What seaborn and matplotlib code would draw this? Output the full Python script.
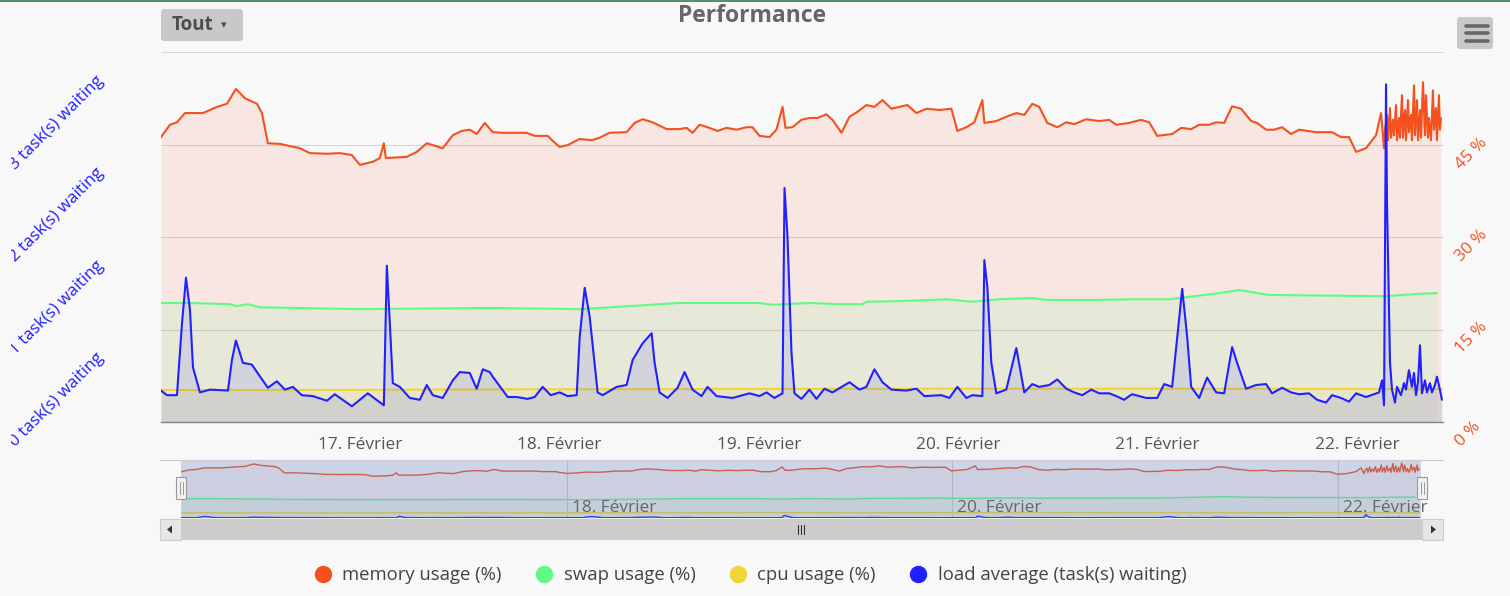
import matplotlib
matplotlib.use("Agg")
import matplotlib.pyplot as plt
import matplotlib.dates as mdates
import matplotlib.transforms as mtransforms
from matplotlib.lines import Line2D
from matplotlib.patches import Rectangle, FancyBboxPatch, Polygon
import pandas as pd
import seaborn as sns

# ── Data (hours since 16 Feb 00:00, value) ────────────────────────────────────
START = pd.Timestamp("2016-02-16 00:00")
END_HOURS = 154.35

MEMORY = [
    (0.0, 46.2), (1.08, 48.2), (1.92, 48.6), (2.89, 50.1), (5.05, 50.1), (6.74, 51.1),
    (7.94, 51.6), (9.02, 54.0), (10.11, 52.5), (11.55, 51.6), (12.15, 50.1), (12.87, 45.2),
    (14.32, 45.1), (16.72, 44.4), (17.92, 43.6), (19.97, 43.5), (21.53, 43.6), (22.98, 43.3),
    (23.94, 41.7), (25.50, 42.2), (26.35, 42.8), (26.83, 45.2), (27.07, 42.8), (29.59, 43.0),
    (30.80, 43.8), (32.00, 45.2), (33.92, 44.4), (35.13, 46.5), (36.21, 47.2), (37.17, 47.4),
    (38.01, 46.7), (38.98, 48.5), (39.94, 47.0), (41.14, 46.9), (44.03, 46.9), (44.99, 46.4),
    (46.56, 46.4), (47.16, 45.6), (48.00, 44.6), (48.96, 44.9), (50.41, 45.9), (51.85, 45.7),
    (52.81, 46.1), (54.01, 46.9), (56.06, 47.0), (57.02, 48.5), (57.98, 49.1), (59.19, 48.6),
    (60.87, 47.5), (62.44, 47.5), (63.28, 47.7), (64.00, 46.9), (64.84, 48.2), (65.80, 47.8),
    (67.01, 47.2), (68.09, 47.7), (69.29, 47.4), (70.50, 47.8), (71.22, 47.8), (72.06, 46.4),
    (73.26, 46.2), (74.10, 47.4), (74.83, 51.1), (75.19, 47.7), (76.03, 47.8), (77.11, 49.0),
    (78.07, 49.3), (79.04, 49.3), (80.12, 49.9), (80.84, 49.0), (81.93, 46.9), (82.89, 49.5),
    (83.85, 50.3), (84.93, 51.4), (85.89, 51.1), (86.86, 52.2), (87.94, 50.8), (89.86, 51.4),
    (90.95, 50.1), (92.15, 50.8), (93.71, 50.6), (95.16, 50.8), (95.88, 47.2), (96.96, 47.8),
    (97.92, 48.6), (98.89, 52.2), (99.13, 48.5), (100.57, 48.8), (101.77, 49.5), (102.98, 50.1),
    (103.94, 49.8), (104.90, 51.6), (105.74, 51.1), (106.71, 48.5), (107.91, 47.8), (108.99, 48.6),
    (109.95, 48.3), (111.40, 49.1), (112.96, 48.8), (114.16, 49.0), (115.01, 48.2), (116.57, 48.5),
    (118.01, 49.0), (118.98, 48.6), (119.94, 46.4), (121.74, 46.7), (122.83, 47.7), (124.03, 47.5),
    (124.99, 48.2), (126.19, 48.2), (127.04, 48.6), (128.00, 48.5), (128.96, 51.2), (130.04, 50.8),
    (131.25, 48.8), (131.97, 48.5), (133.05, 47.4), (134.01, 47.4), (134.98, 47.8), (136.06, 46.7),
    (137.02, 47.4), (139.07, 47.0), (140.99, 47.0), (142.07, 46.2), (143.04, 46.2), (143.88, 43.8),
    (145.08, 44.4), (146.29, 46.5), (146.89, 50.1), (147.25, 44.4), (147.37, 47.4), (147.61, 49.8),
    (147.73, 45.7), (147.97, 50.9), (148.09, 46.1), (148.33, 49.0), (148.45, 46.5), (148.69, 51.4),
    (148.81, 45.7), (149.05, 49.3), (149.17, 46.1), (149.41, 53.0), (149.53, 46.1), (149.77, 50.6),
    (149.89, 45.7), (150.13, 52.2), (150.25, 47.0), (150.49, 49.8), (150.61, 45.7), (150.86, 54.6),
    (150.98, 46.5), (151.22, 52.2), (151.34, 45.7), (151.58, 50.6), (151.70, 46.1), (151.94, 55.1),
    (152.18, 46.5), (152.30, 53.0), (152.54, 46.1), (152.66, 49.3), (152.90, 45.7), (153.14, 53.8),
    (153.26, 47.4), (153.50, 50.9), (153.62, 45.7), (153.86, 53.0), (153.98, 47.4), (154.10, 49.3),
]

SWAP = [
    (0.0, 19.3), (3.49, 19.3), (8.30, 19.1), (9.14, 18.8), (10.47, 19.1), (11.91, 18.6),
    (23.94, 18.3), (39.58, 18.5), (50.41, 18.3), (62.44, 19.3), (72.06, 19.3), (73.62, 19.0),
    (78.07, 19.3), (81.68, 19.1), (84.45, 19.1), (84.93, 19.5), (88.90, 19.6), (94.56, 19.9),
    (97.68, 19.5), (100.93, 19.9), (104.90, 20.1), (106.59, 19.8), (112.96, 19.8), (116.57, 19.9),
    (121.38, 19.9), (127.40, 20.9), (129.80, 21.4), (133.41, 20.6), (147.49, 20.4), (151.46, 20.8),
    (153.62, 20.9),
]

CPU = [
    (0.0, 5.2), (20.0, 5.2), (45.0, 5.3), (70.0, 5.35), (95.0, 5.4), (120.0, 5.4),
    (146.0, 5.35), (154.2, 5.35),
]

LOAD = [
    (0.0, 0.34), (0.72, 0.29), (1.92, 0.29), (2.53, 1.07), (3.01, 1.56), (3.49, 1.21),
    (3.85, 0.59), (4.69, 0.32), (5.89, 0.35), (8.06, 0.34), (8.54, 0.67), (9.02, 0.88),
    (9.38, 0.78), (9.86, 0.64), (10.95, 0.62), (11.55, 0.54), (12.87, 0.37), (13.95, 0.44),
    (14.92, 0.35), (15.88, 0.38), (16.96, 0.29), (18.29, 0.28), (19.97, 0.23), (20.93, 0.30),
    (22.98, 0.17), (24.90, 0.31), (26.83, 0.18), (27.19, 1.69), (27.55, 1.07), (27.91, 0.42),
    (28.75, 0.38), (29.95, 0.26), (31.16, 0.24), (32.00, 0.40), (32.72, 0.29), (33.92, 0.26),
    (35.13, 0.45), (35.97, 0.54), (37.17, 0.53), (38.01, 0.36), (38.74, 0.57), (39.58, 0.54),
    (39.94, 0.49), (41.74, 0.27), (42.83, 0.27), (44.15, 0.25), (44.99, 0.27), (45.95, 0.38),
    (46.92, 0.29), (48.00, 0.32), (48.96, 0.28), (50.05, 0.29), (50.41, 0.92), (51.01, 1.45),
    (51.61, 1.14), (52.57, 0.32), (53.17, 0.29), (54.86, 0.38), (56.06, 0.40), (56.78, 0.67),
    (57.98, 0.85), (59.07, 0.96), (59.43, 0.64), (60.03, 0.32), (60.99, 0.26), (62.20, 0.37),
    (63.04, 0.54), (64.00, 0.35), (65.08, 0.28), (65.80, 0.38), (66.89, 0.28), (68.81, 0.26),
    (70.86, 0.31), (72.06, 0.28), (72.90, 0.32), (73.86, 0.26), (74.83, 0.31), (75.07, 2.53),
    (75.43, 2.00), (75.91, 0.75), (76.27, 0.31), (77.11, 0.25), (78.07, 0.35), (78.92, 0.25),
    (79.88, 0.36), (80.84, 0.32), (82.89, 0.43), (84.09, 0.35), (84.93, 0.38), (85.89, 0.57),
    (86.86, 0.43), (87.94, 0.35), (89.74, 0.34), (90.95, 0.36), (91.91, 0.28), (93.95, 0.29),
    (94.92, 0.26), (95.88, 0.38), (96.96, 0.26), (97.68, 0.29), (98.89, 0.28), (99.13, 1.75),
    (99.49, 1.46), (99.97, 0.64), (100.57, 0.31), (101.77, 0.35), (102.98, 0.80), (103.46, 0.56),
    (103.94, 0.32), (104.90, 0.41), (105.74, 0.38), (106.95, 0.40), (107.91, 0.46), (108.99, 0.36),
    (109.95, 0.32), (110.92, 0.29), (112.00, 0.35), (112.96, 0.31), (114.16, 0.31), (115.01, 0.28),
    (115.97, 0.24), (116.57, 0.28), (116.93, 0.30), (118.62, 0.26), (119.94, 0.26), (120.78, 0.41),
    (121.74, 0.38), (122.35, 0.92), (122.95, 1.44), (123.55, 0.92), (124.03, 0.38), (124.99, 0.26),
    (125.95, 0.48), (127.04, 0.32), (128.00, 0.31), (128.96, 0.81), (129.56, 0.64), (130.64, 0.36),
    (131.85, 0.40), (133.05, 0.41), (133.77, 0.31), (134.98, 0.37), (136.06, 0.32), (137.02, 0.30),
    (138.22, 0.31), (139.19, 0.24), (140.27, 0.21), (140.99, 0.29), (142.07, 0.26), (143.04, 0.22),
    (143.88, 0.31), (145.08, 0.27), (146.65, 0.32), (147.01, 0.45), (147.25, 0.18), (147.49, 3.65),
    (147.61, 2.37), (147.97, 0.64), (148.21, 0.35), (148.57, 0.21), (148.81, 0.38), (149.29, 0.29),
    (149.65, 0.42), (149.89, 0.35), (150.25, 0.56), (150.61, 0.38), (150.86, 0.53), (151.10, 0.29),
    (151.34, 0.43), (151.58, 0.83), (151.82, 0.31), (152.18, 0.45), (152.42, 0.32), (152.78, 0.42),
    (153.02, 0.32), (153.38, 0.40), (153.62, 0.49), (153.98, 0.35), (154.22, 0.24),
]

SERIES_NAMES = ["memory usage (%)", "swap usage (%)", "cpu usage (%)",
                "load average (task(s) waiting)"]
PCT_TICKS = [0, 15, 30, 45]
PCT_LABELS = ["0 %", "15 %", "30 %", "45 %"]
LOAD_TICKS = [0, 1, 2, 3]
LOAD_LABELS = ["0 task(s) waiting", "1 task(s) waiting", "2 task(s) waiting",
               "3 task(s) waiting"]
DAY_OFFSETS = [1, 2, 3, 4, 5, 6]
DAY_LABELS = ["17. Février", "18. Février", "19. Février", "20. Février",
              "21. Février", "22. Février"]
NAV_DAY_OFFSETS = [2, 4, 6]
NAV_DAY_LABELS = ["18. Février", "20. Février", "22. Février"]

# ── Style ─────────────────────────────────────────────────────────────────────
BG = "#f8f8f8"
MEM_COLOR = "#f4511e"
SWAP_COLOR = "#5efc82"
CPU_COLOR = "#f0d43a"
LOAD_COLOR = "#2121ff"
COLORS = [MEM_COLOR, SWAP_COLOR, CPU_COLOR, LOAD_COLOR]

W, H = 1510, 596
sns.set_theme(style="white")
plt.rcParams["font.family"] = ["Open Sans", "DejaVu Sans"]


def to_frame(points):
    df = pd.DataFrame(points, columns=["hours", "value"])
    df["time"] = START + pd.to_timedelta(df["hours"], unit="h")
    return df


mem_df, swap_df, cpu_df, load_df = (to_frame(p) for p in (MEMORY, SWAP, CPU, LOAD))
day_ticks = [START + pd.Timedelta(days=d) for d in DAY_OFFSETS]
nav_ticks = [START + pd.Timedelta(days=d) for d in NAV_DAY_OFFSETS]
x_end = START + pd.Timedelta(hours=END_HOURS)

fig = plt.figure(figsize=(W / 100, H / 100), dpi=100, facecolor=BG)
# image pixel coordinates (y downwards) -> display
PX = mtransforms.Affine2D().scale(1, -1).translate(0, H)

# ── Main chart ────────────────────────────────────────────────────────────────
ax = fig.add_axes([161 / W, 1 - 422 / H, 1282 / W, 370 / H])
ax.set_facecolor(BG)
ax_load = ax.twinx()

for df, color in zip((mem_df, swap_df, cpu_df), COLORS[:3]):
    ax.fill_between(df["time"], 0, df["value"], color=color, alpha=0.1, lw=0, zorder=1)
    sns.lineplot(data=df, x="time", y="value", ax=ax, color=color, linewidth=1.5,
                 estimator=None, sort=False, legend=False, zorder=3)

ax_load.fill_between(load_df["time"], 0, load_df["value"], color=LOAD_COLOR,
                     alpha=0.1, lw=0, zorder=1)
sns.lineplot(data=load_df, x="time", y="value", ax=ax_load, color=LOAD_COLOR,
             linewidth=1.5, estimator=None, sort=False, legend=False, zorder=3)

ax.set_xlim(START, x_end)
ax.set_ylim(0, 60)
ax_load.set_ylim(0, 4)
ax.set_yticks([0, 15, 30, 45, 60])
ax.set_axisbelow(True)
ax.grid(axis="y", color="#d4d4d4", linewidth=0.75)
ax.grid(axis="x", visible=False)
for gl in ax.get_ygridlines():
    gl.set_clip_on(False)
ax.tick_params(axis="y", left=False, right=False, labelleft=False, labelright=False)
ax_load.tick_params(axis="y", left=False, right=False, labelleft=False, labelright=False)
ax.set_xticks(day_ticks, labels=DAY_LABELS)
ax.tick_params(axis="x", length=7.2, width=0.8, color="#999999", labelsize=12.4,
               labelcolor="#555555", pad=3.5)
ax.set_xlabel("")
ax.set_ylabel("")
ax_load.set_ylabel("")
for name, sp in ax.spines.items():
    sp.set_visible(name == "bottom")
ax.spines["bottom"].set_color("#8a8a8a")
ax.spines["bottom"].set_linewidth(1.0)
for sp in ax_load.spines.values():
    sp.set_visible(False)

# rotated axis labels, placed like the Highcharts ones
right_tr = mtransforms.offset_copy(
    mtransforms.blended_transform_factory(fig.transFigure, ax.transData),
    fig=fig, x=0, y=-25, units="dots")
for v, lab in zip(PCT_TICKS, PCT_LABELS):
    ax.text(1461 / W, v, lab, transform=right_tr, rotation=45, rotation_mode="anchor",
            ha="left", va="baseline", color=MEM_COLOR, fontsize=12.2)

left_tr = mtransforms.offset_copy(
    mtransforms.blended_transform_factory(fig.transFigure, ax_load.transData),
    fig=fig, x=0, y=22, units="dots")
clip_rect = Rectangle((11, 0), W, H, transform=PX)
for v, lab in zip(LOAD_TICKS, LOAD_LABELS):
    t = ax_load.text(57 / W, v, lab, transform=left_tr, rotation=45,
                     rotation_mode="anchor", ha="center", va="center",
                     color=LOAD_COLOR, fontsize=12.2, clip_on=True)
    t.set_clip_path(clip_rect)

# ── Navigator ─────────────────────────────────────────────────────────────────
ax_nav = fig.add_axes([181 / W, 1 - 518 / H, 1240 / W, 58 / H])
ax_nav.set_facecolor(BG)
for d in nav_ticks:
    ax_nav.axvline(d, color="#d0d0d0", linewidth=0.8, zorder=0)
for df, color in zip((mem_df, swap_df, cpu_df, load_df), COLORS):
    ax_nav.fill_between(df["time"], 0, df["value"], color=color, alpha=0.05, lw=0)
    sns.lineplot(data=df, x="time", y="value", ax=ax_nav, color=color, linewidth=1.0,
                 estimator=None, sort=False, legend=False, zorder=2)
ax_nav.axvspan(START, x_end, color=(102 / 255, 133 / 255, 194 / 255), alpha=0.3,
               lw=0, zorder=4)
ax_nav.set_xlim(START, x_end)
ax_nav.set_ylim(0, 58)
ax_nav.set_xticks([])
ax_nav.set_yticks([])
ax_nav.set_xlabel("")
ax_nav.set_ylabel("")
for sp in ax_nav.spines.values():
    sp.set_visible(False)
nav_lab_tr = mtransforms.offset_copy(
    mtransforms.blended_transform_factory(ax_nav.transData, fig.transFigure),
    fig=fig, x=5, y=0, units="dots")
for d, lab in zip(nav_ticks, NAV_DAY_LABELS):
    ax_nav.text(mdates.date2num(d), 1 - 508 / H, lab, transform=nav_lab_tr,
                ha="left", va="center", color="#666666", fontsize=12.4, zorder=6)

# navigator top outline and handles
fig.add_artist(Line2D([160, 1443], [459.5, 459.5], color="#cccccc", lw=0.8, transform=PX))
for hx in (181, 1422):
    fig.add_artist(Rectangle((hx - 5, 477), 10, 22, facecolor="#f2f2f2",
                             edgecolor="#999999", lw=0.8, transform=PX))
    for dx in (-1.5, 1.5):
        fig.add_artist(Line2D([hx + dx, hx + dx], [482, 494], color="#999999",
                              lw=0.7, transform=PX))

# scrollbar
fig.add_artist(Rectangle((181, 519), 1241, 21, facecolor="#cccccc", lw=0, transform=PX))
for bx in (160, 1422):
    fig.add_artist(Rectangle((bx, 519), 21, 21, facecolor="#e6e6e6",
                             edgecolor="#cccccc", lw=0.8, transform=PX))
fig.add_artist(Polygon([(167, 529.5), (172, 525.5), (172, 533.5)], closed=True,
                       facecolor="#333333", lw=0, transform=PX))
fig.add_artist(Polygon([(1436, 529.5), (1431, 525.5), (1431, 533.5)], closed=True,
                       facecolor="#333333", lw=0, transform=PX))
for gx in (797.5, 800.5, 803.5):
    fig.add_artist(Line2D([gx, gx], [525, 534], color="#333333", lw=0.8, transform=PX))

# ── Title, buttons, legend ────────────────────────────────────────────────────
fig.add_artist(Line2D([0, W], [0.5, 0.5], color="#3b7a52", lw=1.2, transform=PX))
fig.text(752, 16, "Performance", transform=PX, ha="center", va="center",
         fontsize=16.5, fontweight="bold", color="#666666")

fig.add_artist(FancyBboxPatch((161, 9), 82, 32, boxstyle="round,pad=0,rounding_size=3",
                              facecolor="#c8c8c8", lw=0, transform=PX))
fig.text(172, 25, "Tout", transform=PX, ha="left", va="center", fontsize=13.5,
         fontweight="bold", color="#4d4d4d")
fig.text(224, 25.5, "▾", transform=PX, ha="center", va="center", fontsize=8,
         color="#4d4d4d", family=["DejaVu Sans"])

fig.add_artist(FancyBboxPatch((1457, 17), 36, 32, boxstyle="round,pad=0,rounding_size=3",
                              facecolor="#c8c8c8", lw=0, transform=PX))
for by in (25.5, 33, 40.5):
    fig.add_artist(Line2D([1466, 1488], [by, by], color="#666666", lw=2.6,
                          solid_capstyle="round", transform=PX))

handles = [Line2D([], [], marker="o", linestyle="", markersize=11.5, color=c) for c in COLORS]
fig.legend(handles, SERIES_NAMES, loc="center", bbox_to_anchor=(750 / W, 1 - 575 / H),
           ncol=4, frameon=False, fontsize=13.3, handlelength=1.0, handletextpad=0.55,
           columnspacing=1.8, labelcolor="#444444")

fig.savefig("out.png", dpi=100, facecolor=BG)
